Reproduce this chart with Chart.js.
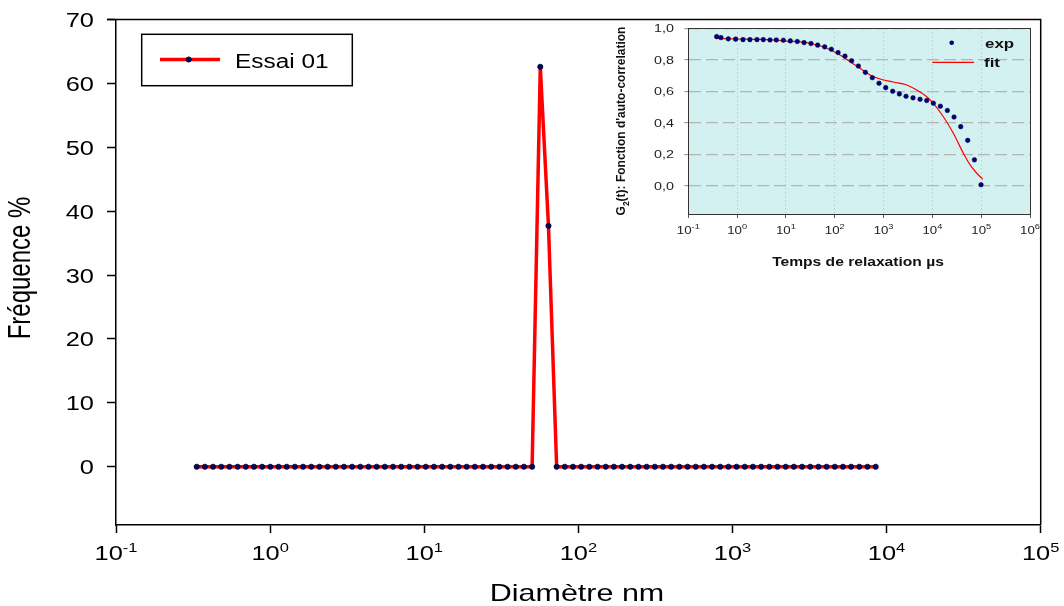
<!DOCTYPE html>
<html>
<head>
<meta charset="utf-8">
<script src="https://cdn.jsdelivr.net/npm/chart.js@4.4.0/dist/chart.umd.min.js"></script>
<style>
  html, body { margin: 0; padding: 0; background: #ffffff; }
  #wrap { position: relative; width: 1064px; height: 606px; overflow: hidden; background: #ffffff; }
  #main { position: absolute; left: 0; top: 0; }
  #inset { position: absolute; left: 600px; top: 0; }
</style>
</head>
<body>
<div id="wrap">
  <canvas id="main" width="1064" height="606"></canvas>
  <canvas id="inset" width="464" height="290"></canvas>
</div>
<script>
// ---------------- Main chart data ----------------
const seriesLabel = 'Essai 01';
const diameterNm = [
  0.334, 0.3774, 0.4265, 0.4819, 0.5446, 0.6154, 0.6954, 0.7858, 0.8879, 1.0033,
  1.1338, 1.2812, 1.4477, 1.6359, 1.8486, 2.0889, 2.3605, 2.6674, 3.0141, 3.406,
  3.8487, 4.3491, 4.9145, 5.5533, 6.2753, 7.0911, 8.0129, 9.0546, 10.232, 11.562,
  13.065, 14.763, 16.682, 18.851, 21.302, 24.071, 27.2, 30.736, 34.732, 39.247,
  44.349, 50.114, 56.629, 63.991, 72.31, 81.71, 92.332, 104.34, 117.9, 133.23,
  150.55, 170.12, 192.23, 217.22, 245.47, 277.38, 313.44, 354.18, 400.22, 452.25,
  511.05, 577.49, 652.56, 737.39, 833.25, 941.57, 1064.0, 1202.3, 1358.6, 1535.2,
  1734.8, 1960.3, 2215.2, 2503.2, 2828.6, 3196.3, 3611.8, 4081.3, 4611.9, 5211.5,
  5889.0, 6654.5, 7519.6, 8497.2
];
const frequencyPct = [
  0, 0, 0, 0, 0, 0, 0, 0, 0, 0,
  0, 0, 0, 0, 0, 0, 0, 0, 0, 0,
  0, 0, 0, 0, 0, 0, 0, 0, 0, 0,
  0, 0, 0, 0, 0, 0, 0, 0, 0, 0,
  0, 0, 62.6, 37.7, 0, 0, 0, 0, 0, 0,
  0, 0, 0, 0, 0, 0, 0, 0, 0, 0,
  0, 0, 0, 0, 0, 0, 0, 0, 0, 0,
  0, 0, 0, 0, 0, 0, 0, 0, 0, 0,
  0, 0, 0, 0
];
const mainXTickExponents = [-1, 0, 1, 2, 3, 4, 5];
const mainYTicks = [0, 10, 20, 30, 40, 50, 60, 70];
const mainXTitle = 'Diamètre nm';
const mainYTitle = 'Fréquence %';

// ---------------- Inset chart data ----------------
const expTimeUs = [
  0.381, 0.467, 0.66, 0.933, 1.32, 1.83, 2.55, 3.44, 4.72, 6.36,
  8.85, 12.3, 17.1, 23.5, 32.6, 44.7, 62.2, 85.2, 117, 162,
  222, 305, 424, 589, 807, 1107, 1538, 2108, 2884, 4018,
  5585, 7656, 10480, 14580, 20280, 27790, 38090, 52980, 72620, 99400
];
const expG2 = [
  0.947, 0.941, 0.933, 0.931, 0.928, 0.928, 0.928, 0.928, 0.926, 0.926,
  0.924, 0.920, 0.916, 0.909, 0.903, 0.893, 0.882, 0.867, 0.846, 0.823,
  0.794, 0.760, 0.720, 0.686, 0.651, 0.623, 0.600, 0.583, 0.568, 0.558,
  0.549, 0.541, 0.524, 0.505, 0.478, 0.436, 0.375, 0.288, 0.164, 0.006
];
const fitTimeUs = [
  0.39, 1, 3, 10, 31, 68.5, 128, 206, 330, 529,
  847, 1589, 2985, 4786, 7674, 10475, 16800, 26900, 43150, 59300,
  81200, 107900
];
const fitG2 = [
  0.936, 0.932, 0.929, 0.919, 0.905, 0.873, 0.830, 0.788, 0.746, 0.703,
  0.678, 0.659, 0.640, 0.608, 0.565, 0.523, 0.438, 0.333, 0.206, 0.132,
  0.079, 0.041
];
const insetXTickExponents = [-1, 0, 1, 2, 3, 4, 5, 6];
const insetYTicks = [0, 0.2, 0.4, 0.6, 0.8, 1.0];
const insetYTickLabels = ['0,0', '0,2', '0,4', '0,6', '0,8', '1,0'];
const insetExpLabel = 'exp';
const insetFitLabel = 'fit';
const insetXTitle = 'Temps de relaxation µs';
const insetYTitleMain = 'G';
const insetYTitleSub = '2';
const insetYTitleRest = '(t): Fonction d\'auto-correlation';

// ---------------- helpers ----------------
const FONT = '"Liberation Sans", Arial, sans-serif';
function setFont(ctx, size, bold) { ctx.font = (bold ? 'bold ' : '') + size + 'px ' + FONT; }
function textW(ctx, s, size, bold) { setFont(ctx, size, bold); return ctx.measureText(s).width; }
function drawText(ctx, s, x, y, size, sx, align, bold, color) {
  ctx.save();
  setFont(ctx, size, bold);
  ctx.fillStyle = color || '#000';
  ctx.textBaseline = 'alphabetic';
  ctx.textAlign = 'left';
  const w = ctx.measureText(s).width * sx;
  const x0 = align === 'center' ? x - w / 2 : (align === 'right' ? x - w : x);
  ctx.translate(x0, y);
  ctx.scale(sx, 1);
  ctx.fillText(s, 0, 0);
  ctx.restore();
}
function drawPow(ctx, base, exp, cx, baseY, size, supSize, rise, sx, color) {
  const w1 = textW(ctx, base, size) * sx;
  const w2 = textW(ctx, exp, supSize) * sx;
  const x0 = cx - (w1 + w2) / 2;
  drawText(ctx, base, x0, baseY, size, sx, 'left', false, color);
  drawText(ctx, exp, x0 + w1, baseY - rise, supSize, sx, 'left', false, color);
}
function drawRot(ctx, s, cx, cy, size, sx, bold, color) {
  ctx.save();
  setFont(ctx, size, bold);
  ctx.fillStyle = color || '#000';
  ctx.translate(cx, cy);
  ctx.rotate(-Math.PI / 2);
  ctx.scale(1, sx);
  ctx.textAlign = 'center';
  ctx.textBaseline = 'middle';
  ctx.fillText(s, 0, 0);
  ctx.restore();
}

// ---------------- main chart ----------------
const mainDecor = {
  id: 'mainDecor',
  afterDraw(chart) {
    const ctx = chart.ctx;
    const a = chart.chartArea;
    const xs = chart.scales.x, ys = chart.scales.y;
    // frame top & right
    ctx.save();
    ctx.strokeStyle = '#000';
    ctx.lineWidth = 1.5;
    ctx.beginPath();
    ctx.moveTo(a.left - 9, a.top);
    ctx.lineTo(a.right, a.top);
    ctx.lineTo(a.right, a.bottom);
    ctx.stroke();
    ctx.restore();
    // y tick labels
    mainYTicks.forEach(v => {
      const y = ys.getPixelForValue(v);
      drawText(ctx, String(v), 94, y + 7.5, 20, 1.27, 'right');
    });
    // x tick labels
    mainXTickExponents.forEach(e => {
      const x = xs.getPixelForValue(Math.pow(10, e));
      drawPow(ctx, '10', String(e), x, 560, 20, 13, 8, 1.27, '#000');
    });
    // titles
    drawText(ctx, mainXTitle, 577, 601, 24, 1.27, 'center');
    drawRot(ctx, mainYTitle, 22, 268, 24, 1.27);
    // legend
    const ds = chart.data.datasets[0];
    ctx.save();
    ctx.strokeStyle = '#000';
    ctx.lineWidth = 1.5;
    ctx.strokeRect(141.7, 34.3, 210.6, 51.4);
    ctx.strokeStyle = ds.borderColor;
    ctx.lineWidth = ds.borderWidth;
    ctx.beginPath();
    ctx.moveTo(160, 59.5);
    ctx.lineTo(220, 59.5);
    ctx.stroke();
    ctx.fillStyle = ds.pointBackgroundColor;
    ctx.strokeStyle = ds.pointBorderColor;
    ctx.lineWidth = ds.pointBorderWidth;
    ctx.beginPath();
    ctx.arc(188.7, 59.5, ds.pointRadius, 0, Math.PI * 2);
    ctx.fill();
    ctx.stroke();
    ctx.restore();
    drawText(ctx, ds.label, 235, 67.5, 20, 1.22, 'left');
  }
};

new Chart(document.getElementById('main'), {
  type: 'line',
  data: {
    datasets: [{
      label: seriesLabel,
      data: diameterNm.map((d, i) => ({ x: d, y: frequencyPct[i] })),
      borderColor: '#ff0000',
      borderWidth: 3.5,
      pointRadius: 2.6,
      pointBackgroundColor: '#000080',
      pointBorderColor: '#000000',
      pointBorderWidth: 0.8,
      tension: 0,
      fill: false
    }]
  },
  options: {
    responsive: false,
    animation: false,
    devicePixelRatio: 1,
    layout: { padding: { left: 0, top: 19.5, right: 23.3, bottom: 0 } },
    plugins: { legend: { display: false }, tooltip: { enabled: false } },
    scales: {
      x: {
        type: 'logarithmic', min: 0.1, max: 1e5,
        afterBuildTicks: s => { s.ticks = mainXTickExponents.map(e => ({ value: Math.pow(10, e) })); },
        afterFit: s => { s.height = 81; },
        grid: { display: true, drawOnChartArea: false, drawTicks: true, tickLength: 8, tickColor: '#000', tickWidth: 1.5, color: '#000' },
        border: { display: true, color: '#000', width: 1.5 },
        ticks: { display: false }
      },
      y: {
        type: 'linear', min: -9.12, max: 70,
        afterBuildTicks: s => { s.ticks = mainYTicks.map(v => ({ value: v })); },
        afterFit: s => { s.width = 116; },
        grid: { display: true, drawOnChartArea: false, drawTicks: true, tickLength: 9, tickColor: '#000', tickWidth: 1.5, color: '#000' },
        border: { display: true, color: '#000', width: 1.5 },
        ticks: { display: false }
      }
    }
  },
  plugins: [mainDecor]
});

// ---------------- inset chart ----------------
const OX = 600; // inset canvas offset
const insetDecor = {
  id: 'insetDecor',
  beforeDraw(chart) {
    const ctx = chart.ctx, a = chart.chartArea;
    ctx.save();
    ctx.fillStyle = '#d3f1f1';
    ctx.fillRect(a.left, a.top, a.right - a.left, a.bottom - a.top);
    ctx.restore();
  },
  afterDraw(chart) {
    const ctx = chart.ctx, a = chart.chartArea;
    const xs = chart.scales.x, ys = chart.scales.y;
    ctx.save();
    ctx.strokeStyle = '#333';
    ctx.lineWidth = 1;
    ctx.strokeRect(Math.round(a.left) + 0.5, Math.round(a.top) + 0.5, Math.round(a.right - a.left), Math.round(a.bottom - a.top));
    ctx.restore();
    // y tick labels
    insetYTicks.forEach((v, i) => {
      const y = ys.getPixelForValue(v);
      drawText(ctx, insetYTickLabels[i], 674 - OX, y + 4, 11, 1.3, 'right', false, '#222');
    });
    // x tick labels
    insetXTickExponents.forEach(e => {
      const x = xs.getPixelForValue(Math.pow(10, e));
      drawPow(ctx, '10', String(e), x, 234, 11.5, 8, 5.5, 1.15, '#222');
    });
    // titles
    drawText(ctx, insetXTitle, 858 - OX, 266, 13, 1.2, 'center', true, '#111');
    // y title with subscript, rotated
    ctx.save();
    const s1 = 12, s2 = 8.5;
    const wG = textW(ctx, insetYTitleMain, s1, true);
    const w2 = textW(ctx, insetYTitleSub, s2, true);
    const wR = textW(ctx, insetYTitleRest, s1, true);
    const tot = wG + w2 + wR;
    ctx.translate(621 - OX, 121);
    ctx.rotate(-Math.PI / 2);
    ctx.fillStyle = '#111';
    ctx.textBaseline = 'alphabetic';
    ctx.textAlign = 'left';
    setFont(ctx, s1, true);
    ctx.fillText(insetYTitleMain, -tot / 2, 4.3);
    setFont(ctx, s2, true);
    ctx.fillText(insetYTitleSub, -tot / 2 + wG, 7.5);
    setFont(ctx, s1, true);
    ctx.fillText(insetYTitleRest, -tot / 2 + wG + w2, 4.3);
    ctx.restore();
    // legend
    const dExp = chart.data.datasets[0], dFit = chart.data.datasets[1];
    ctx.save();
    ctx.fillStyle = dExp.pointBackgroundColor;
    ctx.beginPath();
    ctx.arc(951.7 - OX, 42.7, dExp.pointRadius, 0, Math.PI * 2);
    ctx.fill();
    ctx.strokeStyle = dFit.borderColor;
    ctx.lineWidth = dFit.borderWidth;
    ctx.beginPath();
    ctx.moveTo(932.3 - OX, 62.3);
    ctx.lineTo(974 - OX, 62.3);
    ctx.stroke();
    ctx.restore();
    drawText(ctx, dExp.label, 985 - OX, 47.5, 13, 1.3, 'left', true, '#111');
    drawText(ctx, dFit.label, 984 - OX, 66.5, 13, 1.3, 'left', true, '#111');
  }
};

new Chart(document.getElementById('inset'), {
  type: 'line',
  data: {
    datasets: [{
      label: insetExpLabel,
      data: expTimeUs.map((t, i) => ({ x: t, y: expG2[i] })),
      showLine: false,
      pointRadius: 2.3,
      pointBackgroundColor: '#000080',
      pointBorderColor: '#000033',
      pointBorderWidth: 0.5
    }, {
      label: insetFitLabel,
      data: fitTimeUs.map((t, i) => ({ x: t, y: fitG2[i] })),
      borderColor: '#ff0000',
      borderWidth: 1.2,
      pointRadius: 0,
      cubicInterpolationMode: 'monotone',
      fill: false
    }]
  },
  options: {
    responsive: false,
    animation: false,
    devicePixelRatio: 1,
    layout: { padding: { left: 0, top: 28.3, right: 34, bottom: 0 } },
    plugins: { legend: { display: false }, tooltip: { enabled: false } },
    scales: {
      x: {
        type: 'logarithmic', min: 0.1, max: 1e6,
        afterBuildTicks: s => { s.ticks = insetXTickExponents.map(e => ({ value: Math.pow(10, e) })); },
        afterFit: s => { s.height = 76; },
        grid: { display: true, drawOnChartArea: true, drawTicks: true, tickLength: 4, tickColor: '#555', tickWidth: 1, color: '#bdbdbd', lineWidth: 1 },
        border: { display: true, color: '#333', width: 1, dash: [1, 3] },
        ticks: { display: false }
      },
      y: {
        type: 'linear', min: -0.18, max: 1.0,
        afterBuildTicks: s => { s.ticks = insetYTicks.map(v => ({ value: v })); },
        afterFit: s => { s.width = 88.3; },
        grid: { display: true, drawOnChartArea: true, drawTicks: true, tickLength: 4, tickColor: '#888', tickWidth: 1, color: '#b4b4b4', lineWidth: 1.3 },
        border: { display: true, color: '#333', width: 1, dash: [12, 5] },
        ticks: { display: false }
      }
    }
  },
  plugins: [insetDecor]
});
</script>
</body>
</html>
